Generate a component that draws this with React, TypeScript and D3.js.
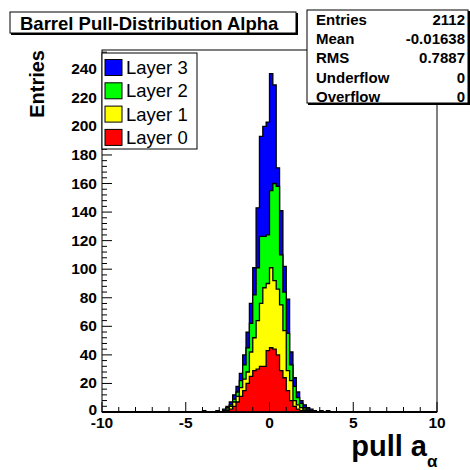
import React from "react";
import * as d3 from "d3";

// Histogram binning: 100 bins of width 0.2 on [-10, 10]
const X_MIN = -10;
const X_MAX = 10;
const BIN_WIDTH = 0.2;

// Centres of the non-empty bins
const binCenters = [
  -3.9, -3.1, -2.7, -2.5, -2.3, -2.1, -1.9, -1.7, -1.5, -1.3, -1.1, -0.9, -0.7, -0.5, -0.3, -0.1,
  0.1, 0.3, 0.5, 0.7, 0.9, 1.1, 1.3, 1.5, 1.7, 1.9, 2.1, 2.3, 2.5, 2.7, 3.1, 3.5,
];

// Entries per bin for each barrel layer
const layer0 = [
  0, 0, 0, 1, 2, 4, 7, 11, 15, 20, 25, 29, 30, 32, 32, 43,
  45, 44, 40, 29, 24, 15, 8, 4, 2, 1, 1, 0, 0, 0, 0, 0,
];
const layer1 = [
  0, 0, 1, 1, 2, 3, 4, 6, 8, 8, 17, 23, 34, 44, 55, 47,
  56, 48, 46, 46, 33, 14, 14, 4, 3, 2, 1, 1, 1, 0, 0, 0,
];
const layer2 = [
  0, 0, 0, 1, 1, 2, 3, 5, 10, 17, 20, 30, 37, 47, 36, 34,
  54, 68, 72, 35, 27, 26, 11, 10, 5, 3, 1, 1, 0, 1, 0, 0,
];
const layer3 = [
  1, 1, 1, 1, 2, 3, 4, 5, 7, 11, 14, 19, 42, 70, 77, 79,
  82, 69, 13, 31, 18, 24, 9, 6, 4, 2, 2, 1, 1, 0, 1, 1,
];

const layerNames = ["Layer 0", "Layer 1", "Layer 2", "Layer 3"];
const layerColors = ["#ff0000", "#ffff00", "#00ff00", "#0000ff"];

const yTicks = [0, 20, 40, 60, 80, 100, 120, 140, 160, 180, 200, 220, 240];
const xTicks = [-10, -5, 0, 5, 10];

const histTitle = "Barrel Pull-Distribution Alpha";
const statLabels = ["Entries", "Mean", "RMS", "Underflow", "Overflow"];
const statValues = ["2112", "-0.01638", "0.7887", "0", "0"];

const Y_MAX = 253.5;

const FONT = "'Liberation Sans', Arial, Helvetica, sans-serif";

export default function App() {
  const W = 470;
  const H = 470;
  const frame = { left: 102, right: 437, top: 50, bottom: 412 };

  const x = d3.scaleLinear().domain([X_MIN, X_MAX]).range([frame.left, frame.right]);
  const y = d3.scaleLinear().domain([0, Y_MAX]).range([frame.bottom, frame.top]);

  const nBins = Math.round((X_MAX - X_MIN) / BIN_WIDTH);
  const layers = [layer0, layer1, layer2, layer3];

  // full-range bin contents for each layer
  const full = layers.map((arr) => {
    const out = new Array(nBins).fill(0);
    binCenters.forEach((c, i) => {
      const idx = Math.round((c - X_MIN) / BIN_WIDTH - 0.5);
      out[idx] += arr[i];
    });
    return out;
  });

  // stacked (cumulative) contents
  const stacked: number[][] = [];
  full.forEach((arr, li) => {
    stacked.push(arr.map((v, b) => v + (li > 0 ? stacked[li - 1][b] : 0)));
  });

  const stepPath = (vals: number[]) => {
    const pts: [number, number][] = [[x(X_MIN), y(0)]];
    vals.forEach((v, b) => {
      const lo = X_MIN + b * BIN_WIDTH;
      const hi = lo + BIN_WIDTH;
      pts.push([x(lo), y(v)]);
      pts.push([x(hi), y(v)]);
    });
    pts.push([x(X_MAX), y(0)]);
    return d3.line()(pts) + "Z";
  };

  const xMinor = d3.range(X_MIN, X_MAX + 0.001, 1);
  const yMinor = d3.range(0, Y_MAX, 4);

  return (
    <svg
      width={W}
      height={H}
      style={{ position: "absolute", left: 0, top: 0, background: "#fff" }}
      fontFamily={FONT}
    >
      <rect x={0} y={0} width={W} height={H} fill="#fff" />

      {/* stacked histograms, outermost first */}
      {[3, 2, 1, 0].map((li) => (
        <path
          key={li}
          d={stepPath(stacked[li])}
          fill={layerColors[li]}
          stroke="#000"
          strokeWidth={1.3}
          strokeLinejoin="miter"
        />
      ))}

      {/* frame */}
      <rect
        x={frame.left}
        y={frame.top}
        width={frame.right - frame.left}
        height={frame.bottom - frame.top}
        fill="none"
        stroke="#000"
        strokeWidth={1}
      />

      {/* x ticks */}
      {xMinor.map((t) => {
        const major = xTicks.includes(Math.round(t * 100) / 100);
        return (
          <line
            key={"xt" + t}
            x1={x(t)}
            x2={x(t)}
            y1={frame.bottom}
            y2={frame.bottom - (major ? 10 : 5)}
            stroke="#000"
          />
        );
      })}
      {xTicks.map((t) => (
        <text key={"xl" + t} x={x(t)} y={427.5} textAnchor="middle" fontSize={15.5} fontWeight="bold">
          {t}
        </text>
      ))}

      {/* y ticks */}
      {yMinor.map((t) => {
        const major = t % 20 === 0;
        return (
          <line
            key={"yt" + t}
            x1={frame.left}
            x2={frame.left + (major ? 10 : 5)}
            y1={y(t)}
            y2={y(t)}
            stroke="#000"
          />
        );
      })}
      {yTicks.map((t) => (
        <text
          key={"yl" + t}
          x={97}
          y={t === 0 ? y(t) + 3 : y(t) + 5}
          textAnchor="end"
          fontSize={15.5}
          fontWeight="bold"
        >
          {t}
        </text>
      ))}

      {/* axis titles */}
      <text
        transform={`translate(44, 50) rotate(-90)`}
        textAnchor="end"
        fontSize={20}
        fontWeight="bold"
      >
        Entries
      </text>
      <text x={427} y={456} textAnchor="end" fontSize={29} fontWeight="bold">
        pull a
      </text>
      <text x={427} y={467} fontSize={17} fontWeight="bold">
        α
      </text>

      {/* legend */}
      <rect x={102} y={53} width={95} height={96} fill="#fff" stroke="#000" />
      {[3, 2, 1, 0].map((li, i) => {
        const cy = 67.5 + i * 23.3;
        return (
          <g key={"lg" + li}>
            <rect x={105} y={cy - 8} width={17} height={16} fill={layerColors[li]} stroke="#000" />
            <text x={126} y={cy + 6.5} fontSize={18.5}>
              {layerNames[li]}
            </text>
          </g>
        );
      })}

      {/* title box */}
      <rect x={11} y={13} width={287} height={22} fill="#000" />
      <rect x={10} y={12} width={286} height={21} fill="#fff" stroke="#000" />
      <text x={20} y={29.5} fontSize={18.5} fontWeight="bold">
        {histTitle}
      </text>

      {/* statistics box */}
      <rect x={308} y={11} width={162} height={94} fill="#000" />
      <rect x={307} y={10} width={161} height={93} fill="#fff" stroke="#000" />
      {statLabels.map((s, i) => (
        <g key={"st" + s}>
          <text x={316} y={25 + i * 19.2} fontSize={15} fontWeight="bold">
            {s}
          </text>
          <text x={465} y={25 + i * 19.2} fontSize={15} fontWeight="bold" textAnchor="end">
            {statValues[i]}
          </text>
        </g>
      ))}
    </svg>
  );
}
